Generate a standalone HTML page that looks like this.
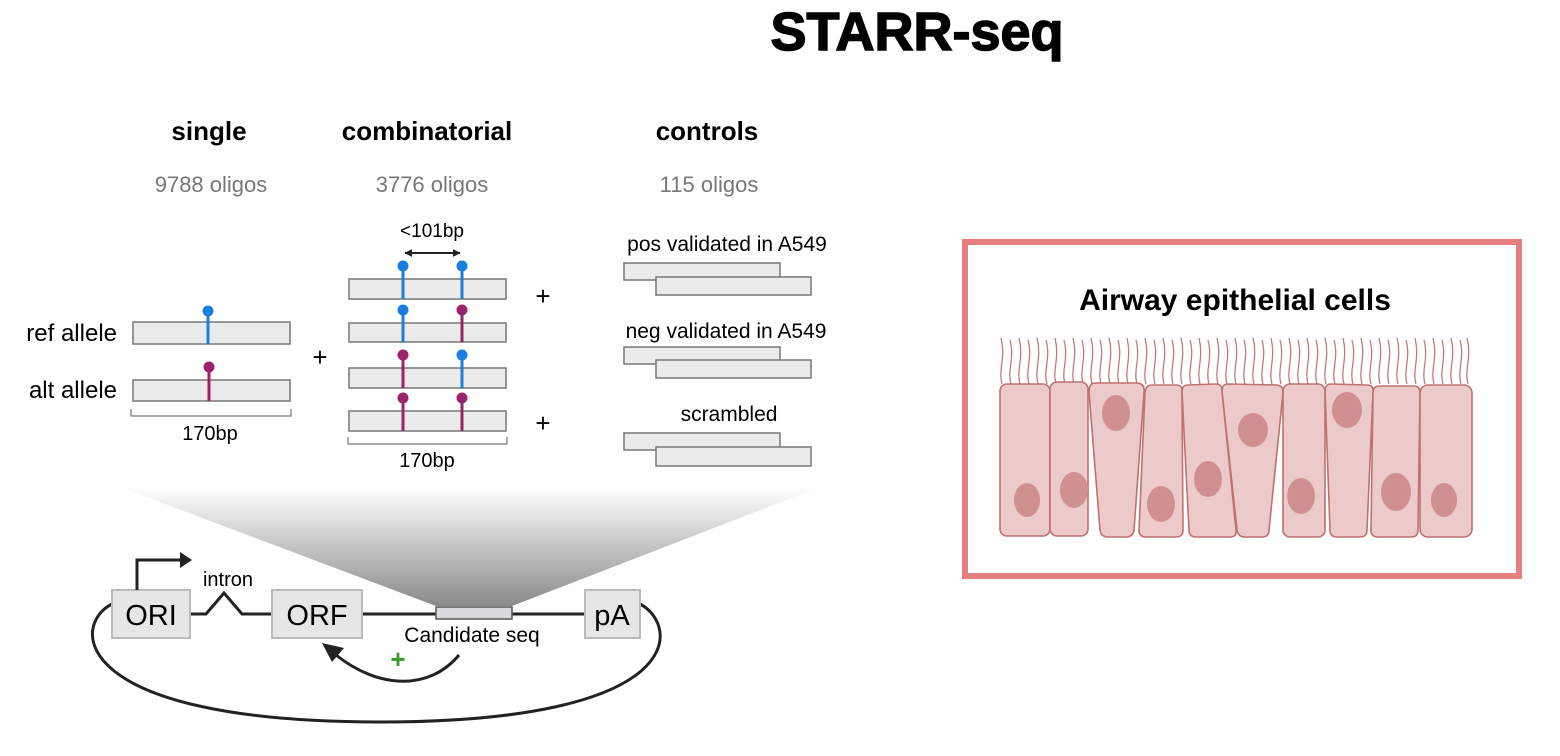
<!DOCTYPE html>
<html><head><meta charset="utf-8"><style>
body{margin:0;background:#fff;}
svg{display:block;font-family:"Liberation Sans",Arial,sans-serif;}
</style></head><body>
<svg width="1560" height="756" viewBox="0 0 1560 756" xmlns="http://www.w3.org/2000/svg">
<defs>
<linearGradient id="cone" x1="0" y1="0" x2="0" y2="1">
<stop offset="0" stop-color="#fff"/><stop offset="1" stop-color="#8a8a8a"/>
</linearGradient>
<marker id="ah" viewBox="0 0 10 10" refX="9" refY="5" markerWidth="4" markerHeight="4" orient="auto"><path d="M0,0L10,5L0,10z" fill="#222"/></marker>
<marker id="ahs" viewBox="0 0 10 10" refX="1" refY="5" markerWidth="4" markerHeight="4" orient="auto"><path d="M10,0L0,5L10,10z" fill="#222"/></marker>
</defs>

<text x="917" y="50" font-size="54" font-weight="bold" text-anchor="middle" stroke="#000" stroke-width="1.5">STARR-seq</text>

<g font-size="26" font-weight="bold" text-anchor="middle">
<text x="209" y="140">single</text><text x="427" y="140">combinatorial</text><text x="707" y="140">controls</text>
</g>
<g font-size="22" fill="#777" text-anchor="middle">
<text x="211" y="192">9788 oligos</text><text x="432" y="192">3776 oligos</text><text x="709" y="192">115 oligos</text>
</g>

<polygon points="120,487 820,487 512,606 436,606" fill="url(#cone)"/>

<!-- single -->
<g stroke="#777" stroke-width="1.5" fill="#ebebeb">
<rect x="133" y="322" width="157" height="22"/><rect x="133" y="380" width="157" height="21"/>
</g>
<line x1="208" y1="312" x2="208" y2="344" stroke="#1a7ee0" stroke-width="3"/><circle cx="208" cy="311" r="5.5" fill="#1a7ee0"/>
<line x1="209" y1="369" x2="209" y2="401" stroke="#9a2467" stroke-width="3"/><circle cx="209" cy="367" r="5.5" fill="#9a2467"/>
<g font-size="24" text-anchor="end"><text x="117" y="341">ref allele</text><text x="117" y="398">alt allele</text></g>
<path d="M131,409V416H291V409" fill="none" stroke="#777" stroke-width="1.2"/>
<text x="210" y="440" font-size="20" text-anchor="middle">170bp</text>
<text x="320" y="366" font-size="26" text-anchor="middle">+</text>

<!-- combinatorial -->
<g stroke="#777" stroke-width="1.5" fill="#ebebeb">
<rect x="349" y="279" width="157" height="20"/><rect x="349" y="323" width="157" height="19"/>
<rect x="349" y="368" width="157" height="20"/><rect x="349" y="411" width="157" height="20"/>
</g>
<g stroke-width="3">
<line x1="403" y1="266" x2="403" y2="299" stroke="#1a7ee0"/><line x1="462" y1="266" x2="462" y2="299" stroke="#1a7ee0"/>
<line x1="403" y1="310" x2="403" y2="342" stroke="#1a7ee0"/><line x1="462" y1="310" x2="462" y2="342" stroke="#9a2467"/>
<line x1="403" y1="355" x2="403" y2="388" stroke="#9a2467"/><line x1="462" y1="355" x2="462" y2="388" stroke="#1a7ee0"/>
<line x1="403" y1="398" x2="403" y2="431" stroke="#9a2467"/><line x1="462" y1="398" x2="462" y2="431" stroke="#9a2467"/>
</g>
<circle cx="403" cy="266" r="5.5" fill="#1a7ee0"/><circle cx="462" cy="266" r="5.5" fill="#1a7ee0"/>
<circle cx="403" cy="310" r="5.5" fill="#1a7ee0"/><circle cx="462" cy="310" r="5.5" fill="#9a2467"/>
<circle cx="403" cy="355" r="5.5" fill="#9a2467"/><circle cx="462" cy="355" r="5.5" fill="#1a7ee0"/>
<circle cx="403" cy="398" r="5.5" fill="#9a2467"/><circle cx="462" cy="398" r="5.5" fill="#9a2467"/>
<line x1="405" y1="253" x2="460" y2="253" stroke="#222" stroke-width="2" marker-start="url(#ahs)" marker-end="url(#ah)"/>
<text x="432" y="237" font-size="19" text-anchor="middle">&lt;101bp</text>
<path d="M348,437V444H507V437" fill="none" stroke="#777" stroke-width="1.2"/>
<text x="427" y="467" font-size="20" text-anchor="middle">170bp</text>
<text x="543" y="305" font-size="26" text-anchor="middle">+</text>
<text x="543" y="432" font-size="26" text-anchor="middle">+</text>

<!-- controls -->
<g font-size="21" text-anchor="middle">
<text x="727" y="251">pos validated in A549</text><text x="726" y="338">neg  validated  in A549</text><text x="729" y="421">scrambled</text>
</g>
<g stroke="#777" stroke-width="1.5" fill="#ebebeb">
<rect x="624" y="263" width="156" height="17"/><rect x="656" y="277" width="155" height="18"/>
<rect x="624" y="347" width="156" height="17"/><rect x="656" y="360" width="155" height="18"/>
<rect x="624" y="433" width="156" height="17"/><rect x="656" y="447" width="155" height="19"/>
</g>

<!-- plasmid -->
<path d="M112,604 C70,625 70,722 380,722 C690,722 680,625 640,604" fill="none" stroke="#222" stroke-width="3"/>
<path d="M190,614H206L224,593L242,614H272 M362,614H436 M512,614H585" fill="none" stroke="#222" stroke-width="3"/>
<g stroke="#bbb" stroke-width="2" fill="#e6e6e6">
<rect x="112" y="590" width="78" height="48"/><rect x="272" y="590" width="90" height="48"/><rect x="585" y="590" width="55" height="48"/>
</g>
<rect x="436" y="607" width="76" height="12" fill="#d8dadd" stroke="#555" stroke-width="1.5"/>
<g font-size="29" text-anchor="middle"><text x="151" y="625">ORI</text><text x="317" y="625">ORF</text><text x="612" y="625">pA</text></g>
<text x="228" y="586" font-size="20" text-anchor="middle">intron</text>
<text x="472" y="642" font-size="21" text-anchor="middle">Candidate seq</text>
<path d="M137,590V560H182" fill="none" stroke="#222" stroke-width="3"/>
<path d="M180,552L192,560L180,568z" fill="#222"/>
<path d="M459,655C430,690 380,690 336,655" fill="none" stroke="#222" stroke-width="3"/>
<path d="M322,643L344,648L332,662z" fill="#222"/>
<text x="398" y="668" font-size="26" font-weight="bold" fill="#3a9a2a" text-anchor="middle">+</text>

<!-- right box -->
<rect x="965" y="242" width="554" height="334" fill="#fff" stroke="#e48080" stroke-width="6"/>
<text x="1235" y="310" font-size="30" font-weight="bold" text-anchor="middle">Airway epithelial cells</text>
<g stroke="#c87878" stroke-width="1.3" fill="none">
<path d="M1002,384c-4,-14 4,-26 -1,-46M1011,384c-4,-14 4,-26 -1,-44M1020,384c-4,-14 4,-26 -1,-46M1029,384c-4,-14 4,-26 -1,-44M1038,384c-4,-14 4,-26 -1,-46M1047,384c-4,-14 4,-26 -1,-44M1056,384c-4,-14 4,-26 -1,-46M1065,384c-4,-14 4,-26 -1,-44M1074,384c-4,-14 4,-26 -1,-46M1083,384c-4,-14 4,-26 -1,-44M1092,384c-4,-14 4,-26 -1,-46M1101,384c-4,-14 4,-26 -1,-44M1110,384c-4,-14 4,-26 -1,-46M1119,384c-4,-14 4,-26 -1,-44M1128,384c-4,-14 4,-26 -1,-46M1137,384c-4,-14 4,-26 -1,-44M1146,384c-4,-14 4,-26 -1,-46M1155,384c-4,-14 4,-26 -1,-44M1164,384c-4,-14 4,-26 -1,-46M1173,384c-4,-14 4,-26 -1,-44M1182,384c-4,-14 4,-26 -1,-46M1191,384c-4,-14 4,-26 -1,-44M1200,384c-4,-14 4,-26 -1,-46M1209,384c-4,-14 4,-26 -1,-44M1218,384c-4,-14 4,-26 -1,-46M1227,384c-4,-14 4,-26 -1,-44M1236,384c-4,-14 4,-26 -1,-46M1245,384c-4,-14 4,-26 -1,-44M1254,384c-4,-14 4,-26 -1,-46M1263,384c-4,-14 4,-26 -1,-44M1272,384c-4,-14 4,-26 -1,-46M1281,384c-4,-14 4,-26 -1,-44M1290,384c-4,-14 4,-26 -1,-46M1299,384c-4,-14 4,-26 -1,-44M1308,384c-4,-14 4,-26 -1,-46M1317,384c-4,-14 4,-26 -1,-44M1326,384c-4,-14 4,-26 -1,-46M1335,384c-4,-14 4,-26 -1,-44M1344,384c-4,-14 4,-26 -1,-46M1353,384c-4,-14 4,-26 -1,-44M1362,384c-4,-14 4,-26 -1,-46M1371,384c-4,-14 4,-26 -1,-44M1380,384c-4,-14 4,-26 -1,-46M1389,384c-4,-14 4,-26 -1,-44M1398,384c-4,-14 4,-26 -1,-46M1407,384c-4,-14 4,-26 -1,-44M1416,384c-4,-14 4,-26 -1,-46M1425,384c-4,-14 4,-26 -1,-44M1434,384c-4,-14 4,-26 -1,-46M1443,384c-4,-14 4,-26 -1,-44M1452,384c-4,-14 4,-26 -1,-46M1461,384c-4,-14 4,-26 -1,-44M1468,384c-4,-14 4,-26 -1,-46"/>
</g>
<g fill="#eccaca" stroke="#c07070" stroke-width="1.6" stroke-linejoin="round">
<rect x="1000" y="384" width="50" height="152" rx="7"/>
<rect x="1050" y="382" width="38" height="154" rx="7"/>
<path d="M1095,383 L1138,383 Q1145,384 1144,392 L1134,530 Q1133,537 1126,537 L1108,537 Q1101,537 1100,530 L1089,392 Q1089,383 1095,383z"/>
<path d="M1152,385 L1176,385 Q1183,385 1182,392 L1183,530 Q1183,537 1176,537 L1146,537 Q1139,537 1139,530 L1145,392 Q1146,385 1152,385z"/>
<path d="M1188,385 L1216,384 Q1222,384 1222,391 L1236,530 Q1237,537 1230,537 L1196,537 Q1189,537 1189,530 L1182,392 Q1182,385 1188,385z"/>
<path d="M1228,384 L1277,385 Q1284,386 1283,393 L1269,530 Q1269,537 1262,537 L1245,537 Q1238,537 1237,530 L1222,391 Q1222,384 1228,384z"/>
<rect x="1283" y="384" width="42" height="153" rx="7"/>
<path d="M1331,384 L1367,385 Q1374,385 1373,392 L1367,530 Q1367,537 1360,537 L1337,537 Q1330,537 1330,530 L1325,391 Q1325,384 1331,384z"/>
<path d="M1379,386 L1414,386 Q1420,386 1420,393 L1418,530 Q1418,537 1411,537 L1378,537 Q1371,537 1371,530 L1373,393 Q1373,386 1379,386z"/>
<rect x="1420" y="385" width="52" height="152" rx="8"/>
</g>
<g fill="#d09090">
<ellipse cx="1027" cy="500" rx="13" ry="17"/><ellipse cx="1074" cy="490" rx="14" ry="18"/>
<ellipse cx="1116" cy="413" rx="14" ry="18"/><ellipse cx="1161" cy="504" rx="14" ry="18"/>
<ellipse cx="1208" cy="479" rx="14" ry="18"/><ellipse cx="1253" cy="430" rx="15" ry="17"/>
<ellipse cx="1301" cy="496" rx="14" ry="18"/><ellipse cx="1347" cy="410" rx="15" ry="18"/>
<ellipse cx="1396" cy="492" rx="15" ry="19"/><ellipse cx="1444" cy="500" rx="13" ry="17"/>
</g>
</svg>
</body></html>
